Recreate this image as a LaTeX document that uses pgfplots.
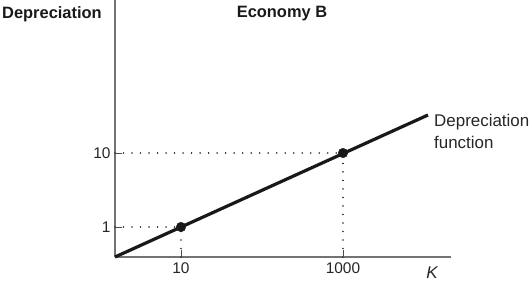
\documentclass[border=0pt]{standalone}
\usepackage{pgfplots}
\pgfplotsset{compat=1.18}
\usepackage{fontspec}
\setmainfont{Liberation Sans}
\begin{document}
\begin{tikzpicture}
\begin{axis}[
  x=1bp, y=1bp,
  xmin=0, xmax=336, ymin=0, ymax=257,
  axis lines=left,
  axis line style={-, draw=black!55, line width=1.1bp},
  tick align=inside,
  major tick length=7bp,
  tick style={black!70, line width=0.9bp},
  xtick={66,228}, xticklabels={10,1000},
  ytick={30,104}, yticklabels={1,10},
  /pgf/number format/assume math mode=true,
  ticklabel style={font=\fontsize{15.5}{16}\selectfont, text=black!85},
  xticklabel style={yshift=-2bp},
  yticklabel style={xshift=-1bp},
  clip=false,
]
\addplot[black!85, line width=1.6bp, dash pattern=on 0.01bp off 8.5bp, line cap=round] coordinates {(0,30) (66,30)};
\addplot[black!85, line width=1.6bp, dash pattern=on 0.01bp off 8.5bp, line cap=round] coordinates {(66,0) (66,30)};
\addplot[black!85, line width=1.6bp, dash pattern=on 0.01bp off 8.5bp, line cap=round] coordinates {(0,104) (228,104)};
\addplot[black!85, line width=1.6bp, dash pattern=on 0.01bp off 8.5bp, line cap=round] coordinates {(228,0) (228,104)};
\addplot[black!90, line width=3.2bp, line cap=butt] coordinates {(0,0) (313,142)};
\addplot[only marks, mark=*, mark size=4.8bp, black!90] coordinates {(66,30) (228,104)};
\node[anchor=west, font=\bfseries\fontsize{16.5}{17}\selectfont, text=black!90, inner sep=0pt] at (axis cs:-113,243) {Depreciation};
\node[anchor=center, font=\bfseries\fontsize{16.5}{17}\selectfont, text=black!90, inner sep=0pt] at (axis cs:167,243) {Economy B};
\node[anchor=west, align=left, font=\fontsize{17}{22}\selectfont, text=black!85, inner sep=0pt] at (axis cs:319,126) {Depreciation\\function};
\node[anchor=center, font=\itshape\fontsize{17}{17}\selectfont, text=black!85, inner sep=0pt] at (axis cs:317,-16) {K};
\coordinate (bl) at (axis cs:-115,-28);
\coordinate (tr) at (axis cs:417,257);
\end{axis}
\pgfresetboundingbox
\useasboundingbox (bl) rectangle (tr);
\end{tikzpicture}
\end{document}
